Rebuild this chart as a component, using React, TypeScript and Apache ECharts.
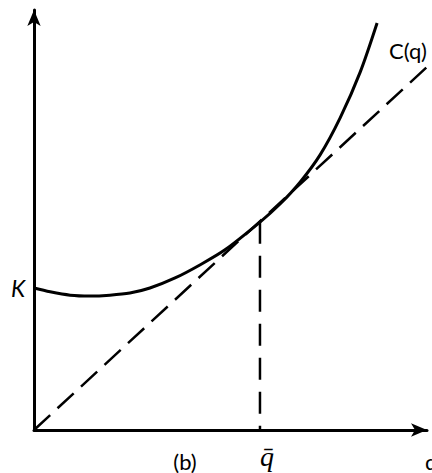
import React, { useEffect, useRef } from "react";
import * as echarts from "echarts";

// Cost curve C(q) (data units 0..100)
const curveQ = [0, 4.1, 9.2, 14.2, 19.3, 24.4, 29.5, 35.9, 42.2, 48.6, 57.5, 62.6, 67.7, 72.8, 77.9, 83.0, 87.3];
const curveC = [33.8, 32.9, 32.1, 31.9, 32.1, 32.6, 33.8, 36.2, 39.3, 42.9, 49.5, 53.8, 59.0, 65.5, 74.3, 85.2, 96.9];
// Ray from origin tangent to the curve
const rayQ = [0, 100.3];
const rayC = [0, 86.7];
// Tangency quantity q-bar
const qBar = 57.5;
const qBarC = 49.6;

const labels = {
  k: "K",
  curve: "C(q)",
  panel: "(b)",
  qbar: "q\u0304",
  q: "q",
};

export default function App() {
  const ref = useRef<HTMLDivElement>(null);
  useEffect(() => {
    if (!ref.current) return;
    const chart = echarts.init(ref.current, null, { renderer: "svg" });
    const axisCommon = {
      type: "value" as const,
      min: 0,
      max: 100,
      axisTick: { show: false },
      axisLabel: { show: false },
      splitLine: { show: false },
      axisLine: {
        show: true,
        onZero: false,
        symbol: ["none", "arrow"],
        symbolSize: [10, 16],
        lineStyle: { color: "#000", width: 3 },
      },
    };
    const sans = "Lato, 'Open Sans', sans-serif";
    chart.setOption({
      animation: false,
      backgroundColor: "#fff",
      grid: { left: 34, right: 5, top: 10, bottom: 43 },
      xAxis: axisCommon,
      yAxis: axisCommon,
      series: [
        {
          type: "line",
          data: curveQ.map((q, i) => [q, curveC[i]]),
          smooth: 0.3,
          clip: false,
          showSymbol: false,
          lineStyle: { color: "#000", width: 3 },
        },
        {
          type: "line",
          data: rayQ.map((q, i) => [q, rayC[i]]),
          clip: false,
          showSymbol: false,
          lineStyle: { color: "#000", width: 2.5, type: [22, 10] },
        },
        {
          type: "line",
          data: [
            [qBar, qBarC],
            [qBar, 0],
          ],
          showSymbol: false,
          lineStyle: { color: "#000", width: 2.5, type: [22, 12] },
        },
      ],
      graphic: [
        {
          type: "text",
          x: 18,
          y: 288,
          style: {
            text: labels.k,
            fontSize: 23,
            fontStyle: "italic",
            fontFamily: sans,
            fill: "#000",
            align: "center",
            verticalAlign: "middle",
          },
        },
        {
          type: "text",
          x: 389,
          y: 50,
          style: {
            text: labels.curve,
            fontSize: 22,
            fontFamily: sans,
            fill: "#000",
            align: "left",
            verticalAlign: "middle",
          },
        },
        {
          type: "text",
          x: 185,
          y: 461,
          style: {
            text: labels.panel,
            fontSize: 22,
            fontFamily: sans,
            fill: "#000",
            align: "center",
            verticalAlign: "middle",
          },
        },
        {
          type: "text",
          x: 267,
          y: 456,
          style: {
            text: labels.qbar,
            fontSize: 28,
            fontStyle: "italic",
            fontFamily: "'Liberation Serif', serif",
            fill: "#000",
            align: "center",
            verticalAlign: "middle",
          },
        },
        {
          type: "text",
          x: 425,
          y: 461,
          style: {
            text: labels.q,
            fontSize: 22,
            fontFamily: sans,
            fill: "#000",
            align: "left",
            verticalAlign: "middle",
          },
        },
      ],
    });
    return () => chart.dispose();
  }, []);
  return <div ref={ref} style={{ width: 432, height: 473, position: "absolute", left: 0, top: 0 }} />;
}
